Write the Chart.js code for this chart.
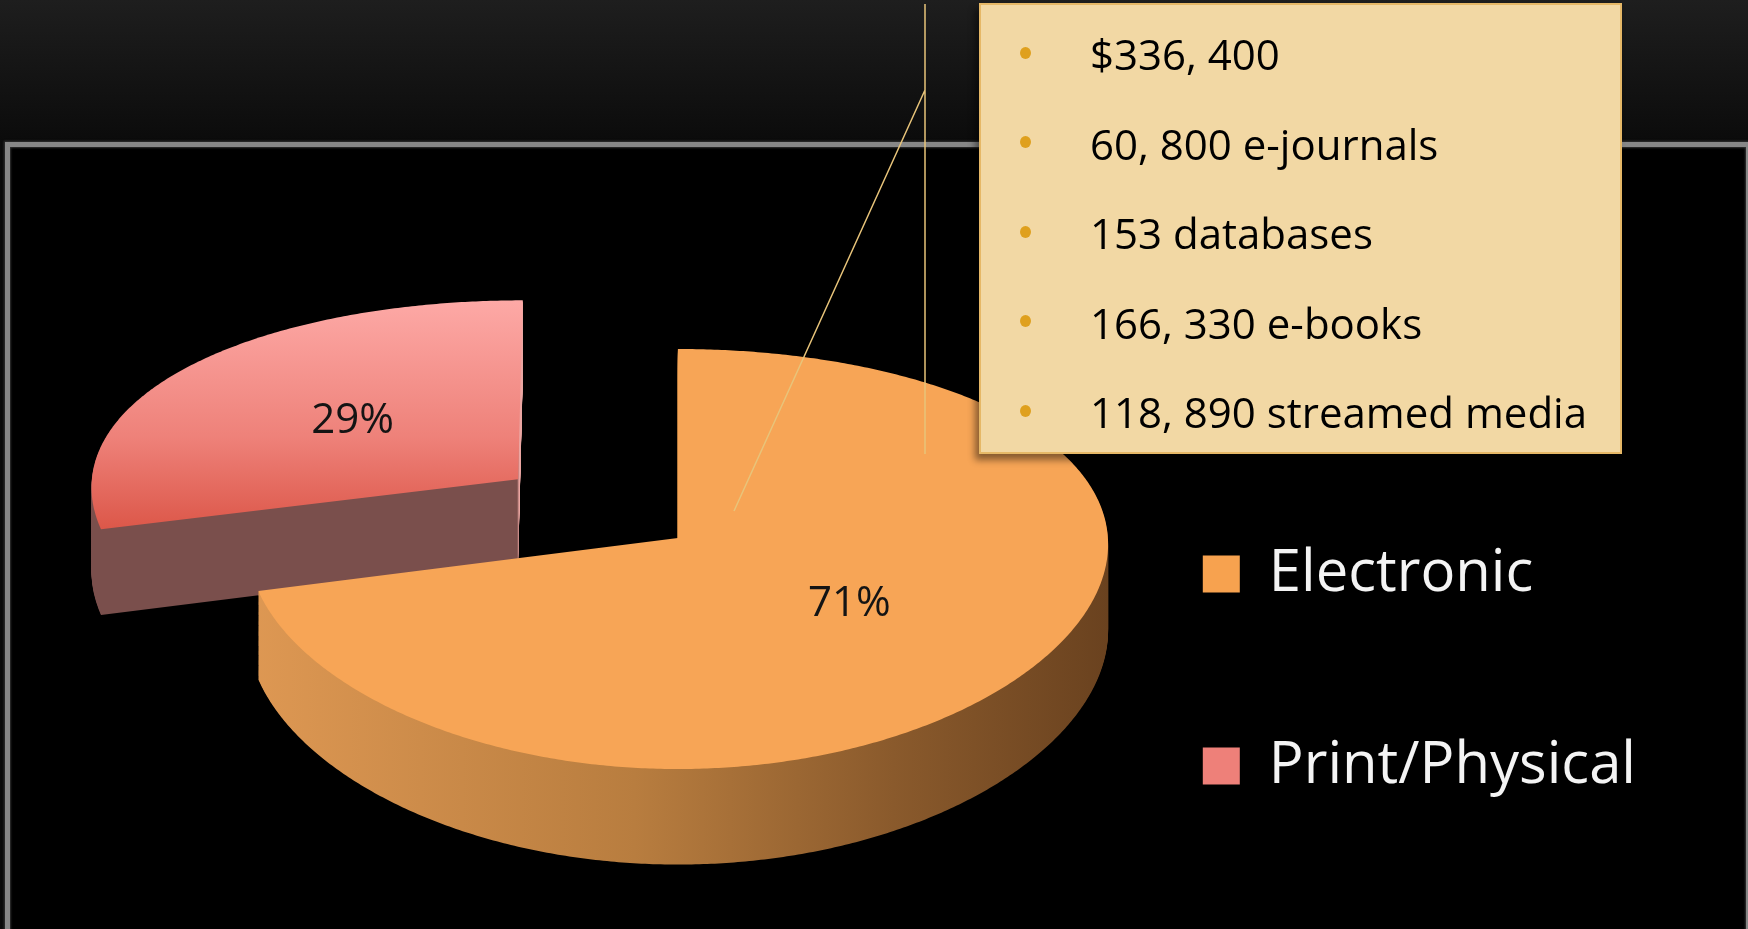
<!DOCTYPE html>
<html lang="en">
<head>
<meta charset="utf-8">
<title>Electronic vs Print/Physical</title>
<script src="https://cdn.jsdelivr.net/npm/chart.js@4.4.1/dist/chart.umd.min.js"></script>
<style>
  html, body { margin: 0; padding: 0; }
  body {
    width: 1748px; height: 929px; overflow: hidden; position: relative;
    background: linear-gradient(#1e1e1e 0px, #0b0b0b 143px);
    font-family: "Open Sans", "Noto Sans", sans-serif;
  }
  .frame {
    position: absolute; left: 5px; top: 142px; right: -3px; bottom: -20px;
    border: 5px solid #878787; background: #000;
    box-shadow: 0 0 2px 1px #333, inset 0 0 2px 1px #333;
  }
  #chartBox { position: absolute; left: 0; top: 0; width: 1748px; height: 929px; }
  .callout {
    position: absolute; left: 979px; top: 3px; width: 643px; height: 451px;
    box-sizing: border-box; background: #F2D8A4; border: 2px solid #E6B867;
    box-shadow: -4px 6px 7px rgba(0,0,0,0.45);
  }
  .callout ul { list-style: none; margin: 0; padding: 4px 0 0 0; }
  .callout li {
    position: relative; height: 89.5px; line-height: 89.5px; padding-left: 109px;
    font-size: 42px; color: #000; white-space: nowrap;
  }
  .callout li::before {
    content: ""; position: absolute; left: 39px; top: 50%; width: 11px; height: 12px;
    margin-top: -7px; border-radius: 50%; background: #DFA01E;
  }
</style>
</head>
<body>
<div class="frame"></div>
<div id="chartBox"><canvas id="pieChart"></canvas></div>
<div class="callout"><ul id="calloutList"></ul></div>

<script>
// data
const categories = ['Electronic', 'Print/Physical'];
const shares = [71, 29];
const calloutLines = [
  '$336, 400',
  '60, 800 e-journals',
  '153 databases',
  '166, 330 e-books',
  '118, 890 streamed media'
];

// fake 3D look: tilt the pie, add a little perspective, extrude downwards
const TILT = 0.4835;   // vertical squash of the face
const PERSP = 0.1;     // far edge shrink (vertical), per radius
const PERSP_X = 0.03;  // same, horizontal
const DEPTH = 86;      // thickness at the centre, px

(function(){
  const list = document.getElementById('calloutList');
  calloutLines.forEach(t => {
    const li = document.createElement('li');
    li.textContent = t;
    list.appendChild(li);
  });
})();

// same translation the ArcElement applies for its offset
function sliceGeom(arc){
  const mid = (arc.startAngle + arc.endAngle) / 2;
  const base = (arc.options.offset || 0) / 4;
  const fix = 1 - Math.sin(Math.min(Math.PI, arc.circumference || 0));
  const shift = base * (1 + fix);
  return {
    cx: arc.x + Math.cos(mid) * shift,
    cy: arc.y + Math.sin(mid) * shift,
    r: arc.outerRadius, a0: arc.startAngle, a1: arc.endAngle, mid
  };
}

// flat pie coords -> screen, around the pie centre (x0, y0)
function makeProjector(x0, y0, R){
  return (px, py, z) => {
    const u = px - x0, v = py - y0;
    const s = 1 / (1 - PERSP * v / R);
    const sx = 1 / (1 - PERSP_X * v / R);
    return [x0 + u * sx, y0 + (TILT * v + z) * s];
  };
}

function wedge(ctx, proj, g, z){
  const n = Math.max(8, Math.ceil((g.a1 - g.a0) / (Math.PI / 360)));
  ctx.beginPath();
  let p = proj(g.cx, g.cy, z);
  ctx.moveTo(p[0], p[1]);
  for (let k = 0; k <= n; k++) {
    const a = g.a0 + (g.a1 - g.a0) * k / n;
    p = proj(g.cx + Math.cos(a) * g.r, g.cy + Math.sin(a) * g.r, z);
    ctx.lineTo(p[0], p[1]);
  }
  ctx.closePath();
}

const pie3d = {
  id: 'pie3d',
  beforeDatasetsDraw(chart){
    const ctx = chart.ctx;
    const arcs = chart.getDatasetMeta(0).data;
    if (!arcs.length || !isFinite(arcs[0].outerRadius)) return;
    const x0 = arcs[0].x, y0 = arcs[0].y, R = arcs[0].outerRadius;
    const proj = makeProjector(x0, y0, R);

    const looks = [
      { // Electronic
        side: () => {
          const gr = ctx.createLinearGradient(x0 - R, 0, x0 + R, 0);
          gr.addColorStop(0, '#DE9853');
          gr.addColorStop(0.45, '#B87D3F');
          gr.addColorStop(0.75, '#8A5A2C');
          gr.addColorStop(1, '#6A421F');
          return gr;
        },
        top: () => '#F7A556'
      },
      { // Print/Physical: dark cut face, light sliver on the right edge
        side: g => {
          const vx = proj(g.cx, g.cy, 0)[0];
          const gr = ctx.createLinearGradient(vx - 400, 0, vx + 20, 0);
          gr.addColorStop(0, '#7A4F4C');
          gr.addColorStop(399 / 420, '#7A4F4C');
          gr.addColorStop(401 / 420, '#EBA6A2');
          gr.addColorStop(1, '#EBA6A2');
          return gr;
        },
        top: g => {
          const t = proj(g.cx, g.cy - g.r, 0);
          const b = proj(g.cx - g.r, g.cy + g.r * 0.25, 0);
          const gr = ctx.createLinearGradient(0, t[1], 0, b[1]);
          gr.addColorStop(0, '#FDA9A6');
          gr.addColorStop(0.6, '#EE8179');
          gr.addColorStop(1, '#DC5749');
          return gr;
        }
      }
    ];

    // back slice first, then the big front one
    [1, 0].forEach(i => {
      const g = sliceGeom(arcs[i]);
      ctx.save();
      ctx.fillStyle = looks[i].side(g);
      for (let z = DEPTH; z > 0; z--) {
        wedge(ctx, proj, g, z);
        ctx.fill();
      }
      ctx.fillStyle = looks[i].top(g);
      wedge(ctx, proj, g, 0);
      ctx.fill();
      ctx.restore();
    });

    // percentage labels
    ctx.save();
    ctx.font = '42px "Open Sans"';
    ctx.fillStyle = '#141414';
    ctx.textAlign = 'center';
    ctx.textBaseline = 'middle';
    arcs.forEach((arc, i) => {
      const g = sliceGeom(arc);
      const p = proj(g.cx + Math.cos(g.mid) * g.r * 0.5, g.cy + Math.sin(g.mid) * g.r * 0.5, 0);
      ctx.fillText(shares[i] + '%', p[0], p[1]);
    });
    ctx.restore();
    return false;
  },
  afterDraw(chart){
    // leader lines of the callout
    const ctx = chart.ctx;
    ctx.save();
    ctx.strokeStyle = '#E8C47A';
    ctx.lineWidth = 1.5;
    ctx.beginPath();
    ctx.moveTo(925, 4); ctx.lineTo(925, 454);
    ctx.moveTo(925, 90); ctx.lineTo(734, 511);
    ctx.stroke();
    ctx.restore();
  }
};

// legend geometry
const LEG_FONT = 58, LEG_PAD = 134, LEG_BOX = 37;
const legendLeft = 1069;
const meas = document.createElement('canvas').getContext('2d');
meas.font = LEG_FONT + 'px "Open Sans"';
const longest = Math.max(...categories.map(c => meas.measureText(c).width));
const padRight = Math.round(1748 - (legendLeft + LEG_PAD + LEG_BOX + LEG_FONT / 2 + longest + 10));
const padLeft = 2 * 678 - legendLeft;
const padTop = 2 * 538 - 929;

new Chart(document.getElementById('pieChart'), {
  type: 'pie',
  data: {
    labels: categories,
    datasets: [{
      data: shares,
      backgroundColor: ['#F7A24F', '#EE8079'],
      borderWidth: 0,
      offset: [0, 791]
    }]
  },
  options: {
    responsive: true,
    maintainAspectRatio: false,
    devicePixelRatio: 1,
    animation: false,
    events: [],
    cutout: '0%',
    radius: 430,
    layout: { padding: { left: padLeft, right: padRight, top: padTop, bottom: 0 } },
    plugins: {
      tooltip: { enabled: false },
      legend: {
        position: 'right',
        align: 'end',
        labels: {
          color: '#F4F4F4',
          font: { family: '"Open Sans", sans-serif', size: LEG_FONT },
          boxWidth: LEG_BOX,
          boxHeight: LEG_BOX,
          padding: LEG_PAD
        }
      }
    }
  },
  plugins: [pie3d]
});
</script>
</body>
</html>
